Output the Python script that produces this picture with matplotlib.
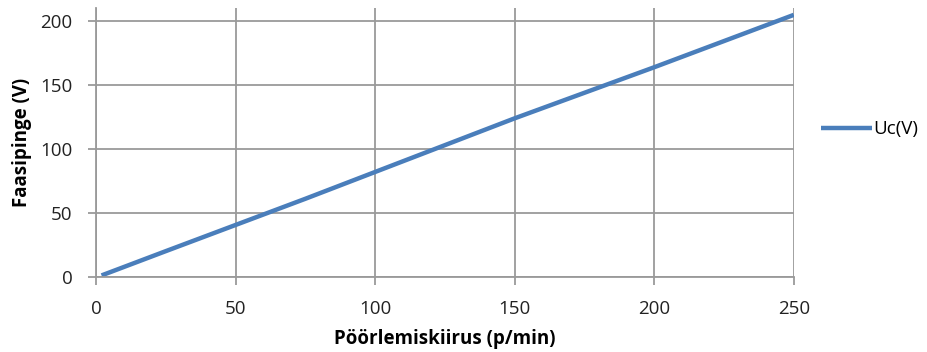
import numpy as np
import matplotlib.pyplot as plt

# Values
speed = [2, 25, 50, 75, 100, 125, 150, 175, 200, 225, 250]
voltage = [1, 20, 40.5, 61, 82, 103, 124, 144, 164, 184.5, 205]
series_name = "Uc(V)"
x_ticks = [0, 50, 100, 150, 200, 250]
y_ticks = [0, 50, 100, 150, 200]

plt.rcParams['font.family'] = ['Open Sans', 'DejaVu Sans']

fig = plt.figure(figsize=(9.28, 3.52), dpi=100)
ax = fig.add_axes([0.1034, 0.2139, 0.752, 0.762])

grid_col = '#9a9a9a'
ax.plot(speed, voltage, color='#4a7ebb', lw=3.2, solid_capstyle='butt', label=series_name)

ax.set_xlim(0, 250)
ax.set_ylim(0, 210)
ax.set_xticks(x_ticks)
ax.set_yticks(y_ticks)
ax.grid(True, color=grid_col, lw=1.3)
ax.set_axisbelow(True)

for side in ['top', 'right']:
    ax.spines[side].set_visible(False)
for side in ['left', 'bottom']:
    ax.spines[side].set_color(grid_col)
    ax.spines[side].set_linewidth(1.3)

ax.tick_params(axis='both', direction='out', length=6, width=1.3, color=grid_col,
               labelsize=13.5, labelcolor='#222222')
ax.tick_params(axis='x', pad=11)
ax.tick_params(axis='y', pad=11)

ax.set_xlabel("Pöörlemiskiirus (p/min)", fontsize=13.5, fontweight='bold', labelpad=8)
ax.set_ylabel("Faasipinge (V)", fontsize=13.5, fontweight='bold', labelpad=6)

ax.legend(loc='center left', bbox_to_anchor=(1.015, 0.55), frameon=False,
          fontsize=13.5, handlelength=2.7, handletextpad=0.1)

fig.savefig("out.png", dpi=100)
